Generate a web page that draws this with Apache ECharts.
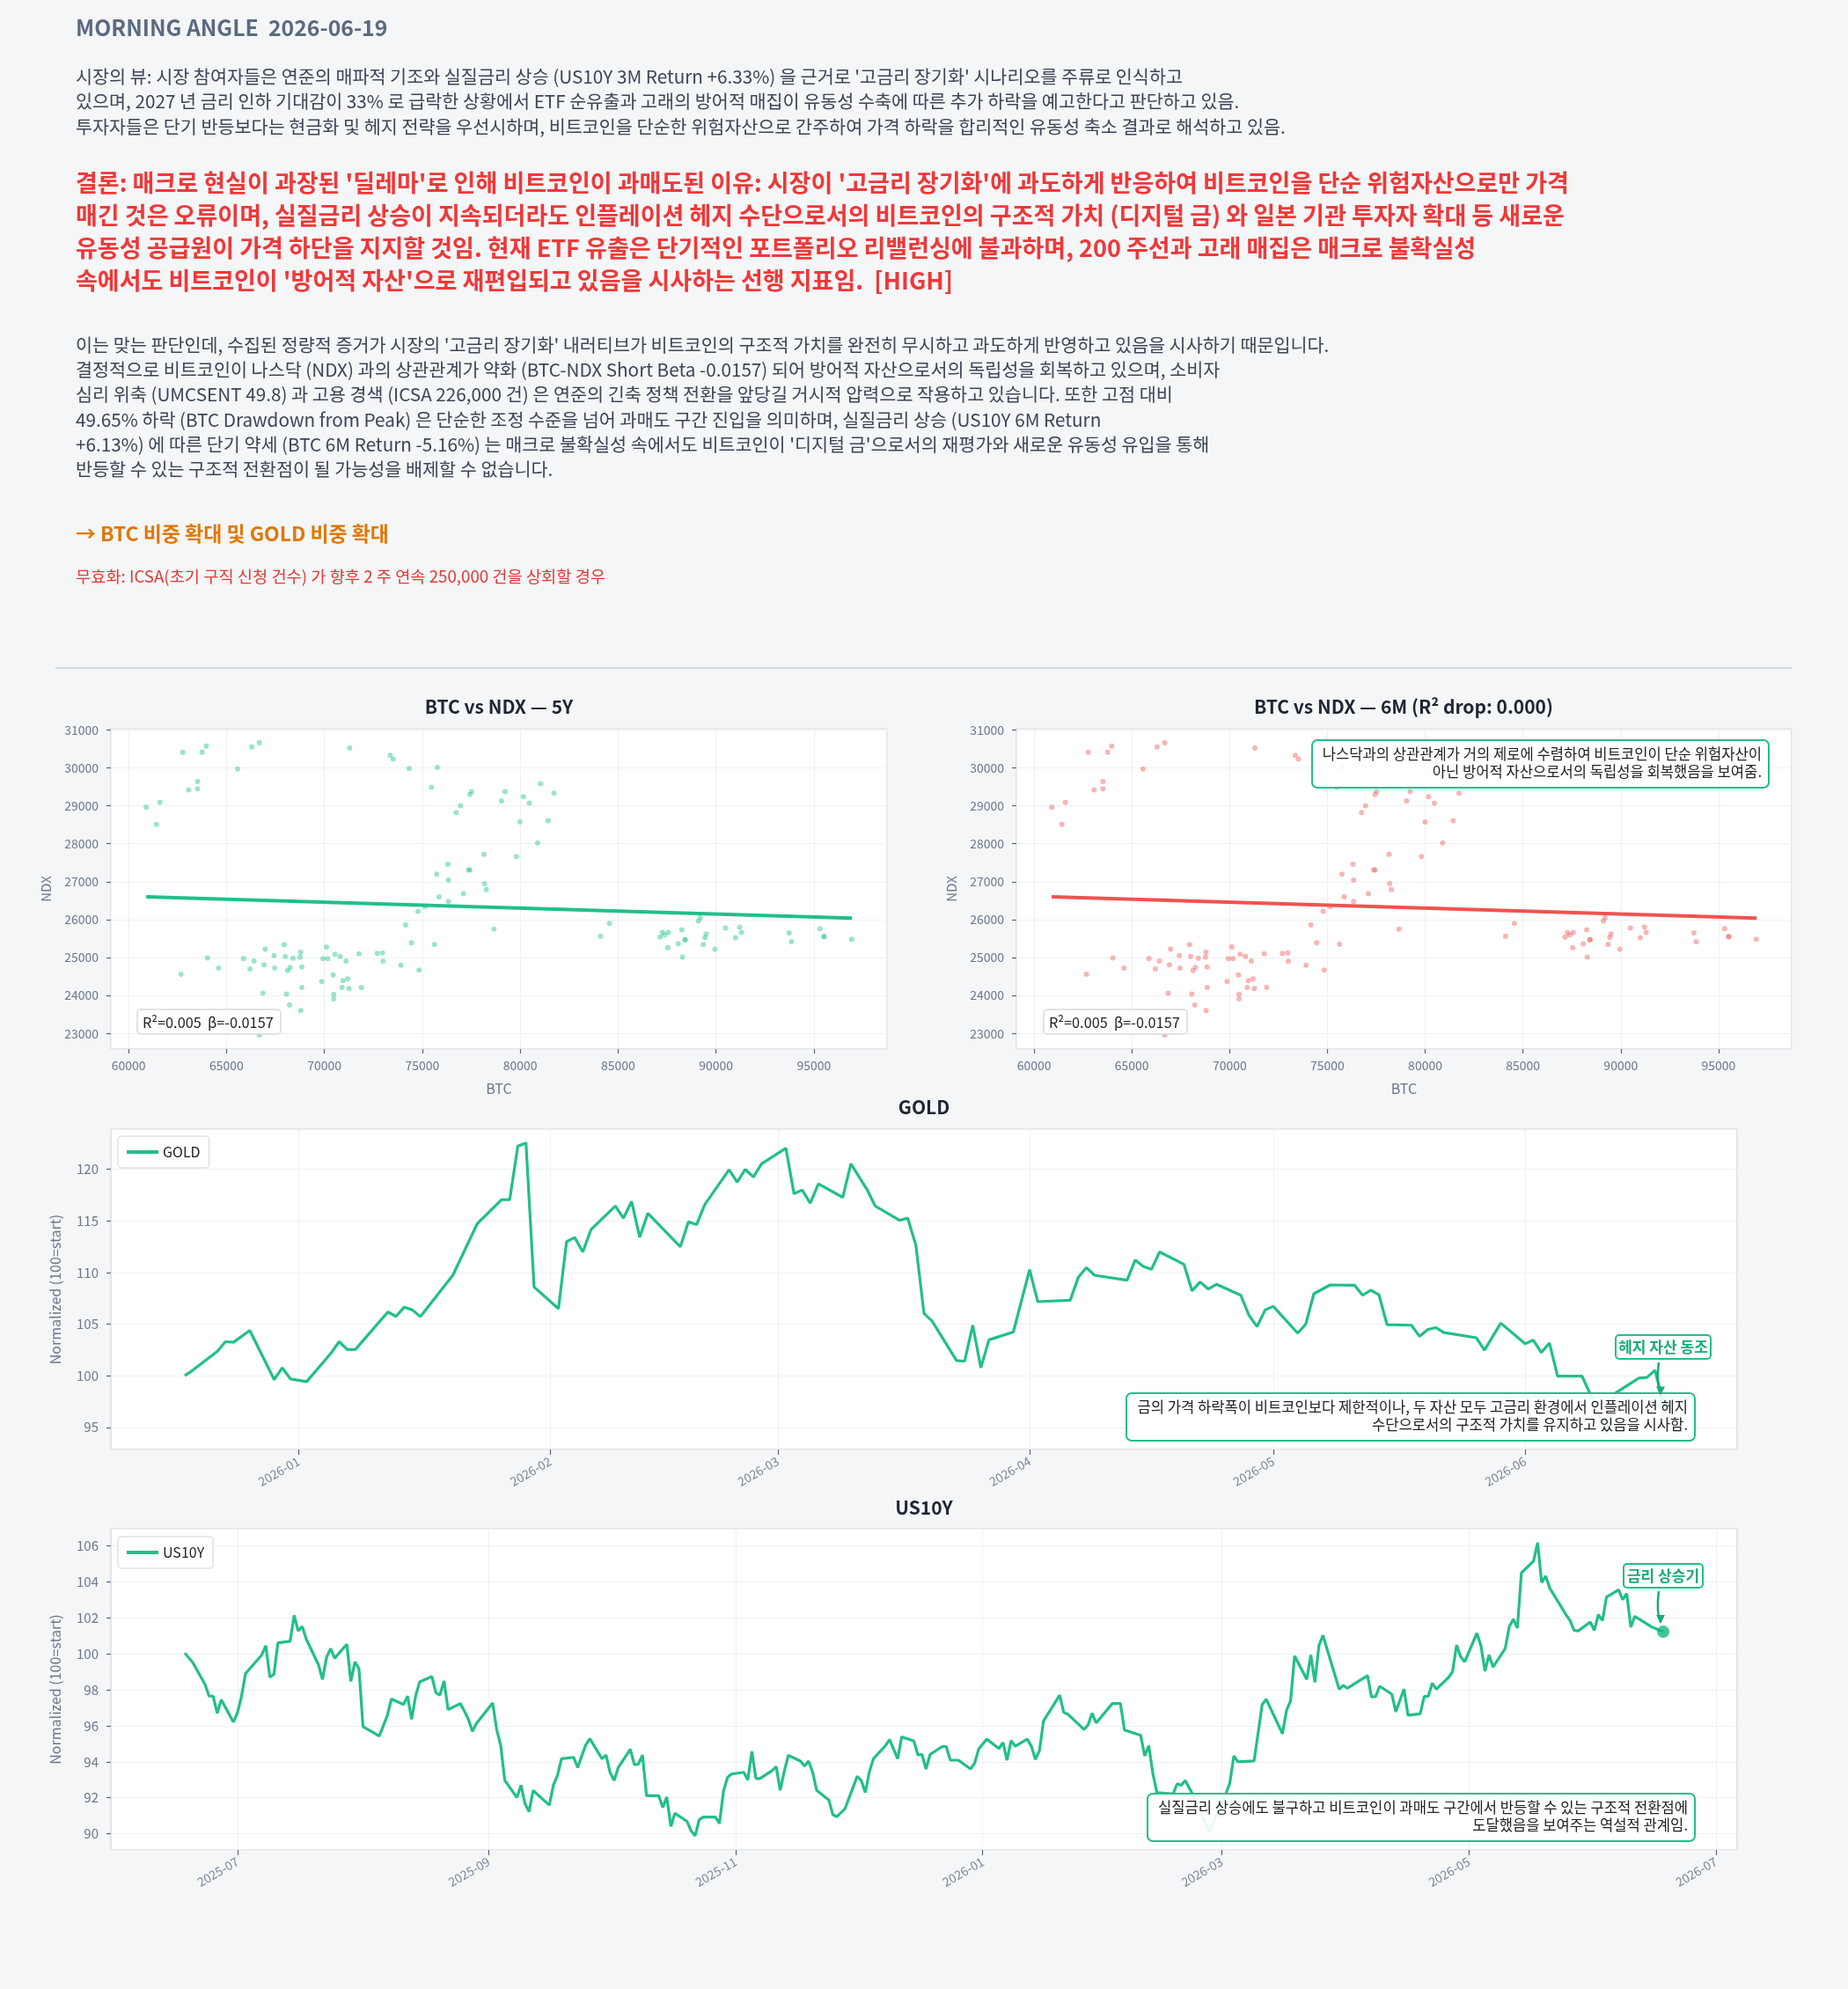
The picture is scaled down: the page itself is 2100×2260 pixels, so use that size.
<!DOCTYPE html>
<html>
<head>
<meta charset="utf-8">
<script src="https://cdn.jsdelivr.net/npm/echarts@6/dist/echarts.min.js"></script>
<style>
html, body { margin: 0; padding: 0; background: #f4f6f8; }
#main { width: 2100px; height: 2260px; }
</style>
</head>
<body>
<div id="main"></div>
<script>
// BTC / NDX scatter (same sample drawn in both panels)
var btcVals = [60900,61420,61600,62770,62680,63070,63520,63520,63760,63970,
  64030,64600,65570,65870,66290,66200,66410,66680,66680,66860,
  66920,66980,67430,67460,67950,68010,68070,68130,68220,68250,
  68400,68760,68790,68790,68850,68850,69870,69930,70110,70170,
  70450,70480,70480,70540,70810,70900,70960,71110,71200,71260,
  71290,71770,71890,72700,72970,73000,73360,73520,73910,74150,
  74330,74450,74780,74840,75140,75470,75620,75740,75770,75860,
  76310,76340,76340,76740,76950,77100,77370,77430,77430,77520,
  78150,78180,78270,78660,79050,79230,79810,79990,80170,80470,
  80890,81040,81430,81730,84110,84560,87150,87270,87390,87540,
  87570,88080,88260,88290,88410,88440,89110,89200,89350,89440,
  89500,89950,90490,91000,91210,91300,93740,93860,95310,95520,
  95520,96930];
var ndxVals = [28960,28510,29090,30410,24560,29420,29640,29450,30410,30570,
  24990,24720,29970,24970,30550,24700,24910,30660,22960,24060,
  24810,25220,25050,24720,25340,25030,24040,24660,23750,24740,
  24980,25010,25140,23600,24750,24210,24370,24970,25280,24970,
  24540,24030,23910,25090,25030,24210,24390,24910,24440,24180,
  30520,25100,24210,25110,25120,24900,30330,30230,24800,25860,
  29980,25390,26220,24670,26340,29490,25350,27200,30010,26600,
  27460,27040,26480,28820,29000,26680,27310,27310,29300,29370,
  27720,26950,26790,25750,29130,29370,27660,28570,29240,29070,
  28020,29580,28610,29330,25560,25900,25540,25660,25600,25260,
  25660,25360,25730,25010,25470,25470,25960,26050,25340,25530,
  25620,25220,25780,25520,25800,25660,25650,25420,25760,25550,
  25550,25480];
// fitted line ends
var fitBtc = [60900, 96950];
var fitNdx = [26600, 26040];

var goldDates = ['2025-12-18','2025-12-19','2025-12-22','2025-12-23','2025-12-24','2025-12-26','2025-12-29','2025-12-30','2025-12-31',
  '2026-01-02','2026-01-05','2026-01-06','2026-01-07','2026-01-08','2026-01-12','2026-01-13','2026-01-14','2026-01-15','2026-01-16',
  '2026-01-20','2026-01-23','2026-01-26','2026-01-27','2026-01-28','2026-01-29','2026-01-30',
  '2026-02-02','2026-02-03','2026-02-04','2026-02-05','2026-02-06','2026-02-09','2026-02-10','2026-02-11','2026-02-12','2026-02-13',
  '2026-02-17','2026-02-18','2026-02-19','2026-02-20','2026-02-23','2026-02-24','2026-02-25','2026-02-26','2026-02-27',
  '2026-03-02','2026-03-03','2026-03-04','2026-03-05','2026-03-06','2026-03-09','2026-03-10','2026-03-12','2026-03-13',
  '2026-03-16','2026-03-17','2026-03-18','2026-03-19','2026-03-20','2026-03-23','2026-03-24','2026-03-25','2026-03-26','2026-03-27','2026-03-30',
  '2026-04-01','2026-04-02','2026-04-06','2026-04-07','2026-04-08','2026-04-09','2026-04-13','2026-04-14','2026-04-15','2026-04-16','2026-04-17',
  '2026-04-20','2026-04-21','2026-04-22','2026-04-23','2026-04-24','2026-04-27','2026-04-28','2026-04-29','2026-04-30',
  '2026-05-01','2026-05-04','2026-05-05','2026-05-06','2026-05-08','2026-05-11','2026-05-12','2026-05-13','2026-05-14','2026-05-15',
  '2026-05-18','2026-05-19','2026-05-20','2026-05-21','2026-05-22','2026-05-26','2026-05-27','2026-05-29',
  '2026-06-01','2026-06-02','2026-06-03','2026-06-04','2026-06-05','2026-06-08','2026-06-09','2026-06-11','2026-06-12',
  '2026-06-15','2026-06-16','2026-06-17','2026-06-18'];
var goldVals = [100.0,100.54,102.36,103.3,103.25,104.39,99.63,100.77,99.69,
  99.43,102.19,103.3,102.54,102.54,106.18,105.75,106.64,106.38,105.73,
  109.74,114.73,117.07,117.07,122.25,122.56,108.6,
  106.5,113.0,113.4,112.0,114.16,116.44,115.27,116.89,113.42,115.75,
  112.5,114.93,114.64,116.58,119.97,118.77,120.0,119.26,120.54,
  122.05,117.64,118.0,116.72,118.6,117.29,120.54,118.03,116.44,
  115.07,115.27,112.65,106.04,105.3,101.48,101.4,104.9,100.77,103.48,104.24,
  110.28,107.18,107.32,109.54,110.48,109.74,109.26,111.22,110.6,110.31,112.0,
  110.8,108.23,109.09,108.4,108.86,107.8,105.87,104.76,106.38,
  106.72,104.13,105.01,107.95,108.8,108.77,107.8,108.29,107.86,104.96,
  104.9,103.82,104.47,104.67,104.19,103.68,102.48,105.1,
  103.1,103.45,102.25,103.16,99.97,99.97,98.26,94.27,98.26,
  99.77,99.83,100.54,97.32];

var usDates = ['2025-06-18','2025-06-20','2025-06-23','2025-06-24','2025-06-25','2025-06-26','2025-06-27','2025-06-30',
  '2025-07-01','2025-07-02','2025-07-03','2025-07-07','2025-07-08','2025-07-09','2025-07-10','2025-07-11','2025-07-14','2025-07-15',
  '2025-07-16','2025-07-17','2025-07-18','2025-07-21','2025-07-22','2025-07-23','2025-07-24','2025-07-25','2025-07-28','2025-07-29',
  '2025-07-30','2025-07-31','2025-08-01','2025-08-04','2025-08-05','2025-08-07','2025-08-08','2025-08-11','2025-08-12','2025-08-13',
  '2025-08-14','2025-08-15','2025-08-18','2025-08-19','2025-08-20','2025-08-21','2025-08-22','2025-08-25','2025-08-26','2025-08-27',
  '2025-08-28','2025-08-29','2025-09-02','2025-09-03','2025-09-04','2025-09-05','2025-09-08','2025-09-09','2025-09-10','2025-09-11',
  '2025-09-12','2025-09-16','2025-09-17','2025-09-18','2025-09-19','2025-09-22','2025-09-23','2025-09-24','2025-09-25','2025-09-26',
  '2025-09-29','2025-09-30','2025-10-01','2025-10-02','2025-10-03','2025-10-06','2025-10-07','2025-10-08','2025-10-09','2025-10-10',
  '2025-10-13','2025-10-14','2025-10-15','2025-10-16','2025-10-17','2025-10-20','2025-10-21','2025-10-22','2025-10-23','2025-10-24',
  '2025-10-27','2025-10-28','2025-10-29','2025-10-30','2025-10-31','2025-11-03','2025-11-04','2025-11-05','2025-11-06','2025-11-07',
  '2025-11-10','2025-11-11','2025-11-12','2025-11-13','2025-11-14','2025-11-17','2025-11-18','2025-11-19','2025-11-20','2025-11-21',
  '2025-11-24','2025-11-25','2025-11-26','2025-11-28','2025-12-01','2025-12-02','2025-12-03','2025-12-04','2025-12-05','2025-12-08',
  '2025-12-09','2025-12-11','2025-12-12','2025-12-15','2025-12-16','2025-12-17','2025-12-18','2025-12-19','2025-12-22','2025-12-23',
  '2025-12-24','2025-12-26','2025-12-29','2025-12-30','2025-12-31','2026-01-02','2026-01-05','2026-01-06','2026-01-07','2026-01-08',
  '2026-01-09','2026-01-12','2026-01-13','2026-01-14','2026-01-15','2026-01-16','2026-01-20','2026-01-21','2026-01-22','2026-01-26',
  '2026-01-27','2026-01-28','2026-01-29','2026-02-02','2026-02-04','2026-02-05','2026-02-09','2026-02-10','2026-02-11','2026-02-12',
  '2026-02-13','2026-02-17','2026-02-18','2026-02-19','2026-02-20','2026-02-22','2026-02-26','2026-03-02','2026-03-03','2026-03-04',
  '2026-03-05','2026-03-09','2026-03-11','2026-03-12','2026-03-16','2026-03-17','2026-03-18','2026-03-19','2026-03-22','2026-03-23',
  '2026-03-24','2026-03-25','2026-03-26','2026-03-30','2026-03-31','2026-04-01','2026-04-06','2026-04-07','2026-04-08','2026-04-09',
  '2026-04-12','2026-04-13','2026-04-15','2026-04-16','2026-04-19','2026-04-20','2026-04-21','2026-04-22','2026-04-23','2026-04-26',
  '2026-04-27','2026-04-28','2026-04-29','2026-04-30','2026-05-03','2026-05-04','2026-05-05','2026-05-06','2026-05-07','2026-05-10',
  '2026-05-11','2026-05-12','2026-05-13','2026-05-14','2026-05-17','2026-05-18','2026-05-19','2026-05-20','2026-05-21','2026-05-25',
  '2026-05-26','2026-05-27','2026-05-28','2026-05-31','2026-06-01','2026-06-02','2026-06-03','2026-06-04','2026-06-07','2026-06-08',
  '2026-06-09','2026-06-10','2026-06-11','2026-06-15','2026-06-18'];
var usVals = [100.05,99.51,98.30,97.65,97.65,96.70,97.45,96.21,
  96.73,97.65,98.91,99.94,100.46,98.71,98.86,100.62,100.70,102.14,
  101.28,101.52,100.82,99.40,98.58,99.81,100.30,99.76,100.54,98.47,
  99.56,99.18,95.96,95.56,95.43,96.57,97.49,97.19,97.65,96.37,
  97.68,98.45,98.74,97.84,97.71,98.50,96.90,97.24,96.83,96.37,
  95.69,96.13,97.27,95.80,94.90,92.97,92.01,92.70,91.67,91.23,
  92.40,91.59,92.70,93.24,94.17,94.25,93.68,94.33,94.94,95.28,
  94.17,94.38,93.40,92.97,93.68,94.69,93.84,93.87,94.38,92.12,
  92.12,91.47,92.04,90.41,91.14,90.69,90.16,89.89,90.78,90.93,
  90.93,90.57,92.37,93.14,93.32,93.42,92.99,94.58,93.07,93.07,
  93.51,93.73,92.42,93.46,94.36,94.04,93.76,94.04,93.43,92.42,
  91.88,91.06,90.95,91.39,93.19,92.97,92.29,93.43,94.17,94.90,
  95.23,94.17,95.39,95.15,94.38,94.41,93.60,94.41,94.85,94.85,
  94.09,94.09,93.60,93.92,94.71,95.26,94.74,95.07,94.09,95.18,
  94.87,95.26,94.87,94.13,94.62,96.26,97.71,96.75,96.65,95.80,
  96.05,96.70,96.16,97.24,97.24,95.77,95.47,94.33,94.90,93.35,
  92.29,92.21,92.78,92.70,92.97,92.12,90.10,92.21,92.81,94.33,
  94.00,94.05,97.19,97.48,95.56,96.86,97.39,99.89,98.58,99.94,
  98.42,100.46,101.03,98.04,98.25,98.09,98.79,97.60,97.63,98.20,
  97.76,96.78,98.04,96.59,96.67,97.63,97.65,98.37,98.04,98.69,
  99.02,100.49,99.84,99.56,101.15,100.46,99.04,99.94,99.27,100.30,
  101.52,101.93,101.44,104.51,105.17,106.18,103.97,104.33,103.65,102.18,
  101.85,101.31,101.28,101.77,101.31,102.18,101.85,103.16,103.56,103.02,
  103.35,101.49,102.09,101.52,101.23];

var goldTicks = ['2026-01-01','2026-02-01','2026-03-01','2026-04-01','2026-05-01','2026-06-01'];
var usTicks = ['2025-07-01','2025-09-01','2025-11-01','2026-01-01','2026-03-01','2026-05-01','2026-07-01'];

var GREEN = '#22bf88';
var RED = '#ef5350';
var FONT = '"Noto Sans CJK KR", "Noto Sans", sans-serif';
var AXIS_TXT = '#6b788c';

function ts(s) { return new Date(s + 'T00:00:00').getTime(); }
function ym(v) {
    var d = new Date(v);
    var m = d.getMonth() + 1;
    return d.getFullYear() + '-' + (m < 10 ? '0' + m : m);
}
function plain(v) { return String(v); }
function zip(a, b) {
    var out = [];
    for (var i = 0; i < a.length; i++) out.push([a[i], b[i]]);
    return out;
}
function padRange(dates) {
    var a = ts(dates[0]), b = ts(dates[dates.length - 1]);
    var m = (b - a) * 0.05;
    return [a - m, b + m];
}

var goldData = zip(goldDates.map(ts), goldVals);
var usData = zip(usDates.map(ts), usVals);
var goldRange = padRange(goldDates);
var usRange = padRange(usDates);

var gridStyle = { show: true, backgroundColor: '#ffffff', borderColor: '#e1e4e9', borderWidth: 2 };
var tickStyle = { show: true, length: 5, lineStyle: { color: '#5d6775', width: 1.2 } };
var splitStyle = { show: true, lineStyle: { color: '#eef0f3', width: 1 } };

function scatterX(idx) {
    return {
        gridIndex: idx, type: 'value', min: 59097, max: 98739, splitNumber: 8,
        axisLine: { show: false }, axisTick: tickStyle, splitLine: splitStyle,
        axisLabel: { fontSize: 14, color: AXIS_TXT, fontFamily: FONT, margin: 12, formatter: plain,
                     showMinLabel: false, showMaxLabel: false },
        name: 'BTC', nameLocation: 'middle', nameGap: 37,
        nameTextStyle: { fontSize: 16, color: AXIS_TXT, fontFamily: FONT }
    };
}
function scatterY(idx) {
    return {
        gridIndex: idx, type: 'value', min: 22588, max: 31031, splitNumber: 8,
        axisLine: { show: false }, axisTick: tickStyle, splitLine: splitStyle,
        axisLabel: { fontSize: 14, color: AXIS_TXT, fontFamily: FONT, margin: 14, formatter: plain,
                     showMinLabel: false, showMaxLabel: false },
        name: 'NDX', nameLocation: 'middle', nameGap: 66,
        nameTextStyle: { fontSize: 15, color: AXIS_TXT, fontFamily: FONT }
    };
}
// dates are drawn on a value axis (timestamps) so month ticks can be placed exactly
function timeX(idx, range, ticks) {
    var vals = ticks.map(ts);
    return {
        gridIndex: idx, type: 'value', min: range[0], max: range[1],
        axisLine: { show: false }, splitLine: { show: false },
        axisTick: { show: true, length: 6, customValues: vals, lineStyle: { color: '#5d6775', width: 1.2 } },
        axisLabel: { customValues: vals, rotate: 30, fontSize: 14, color: '#7b879a', fontFamily: FONT, margin: 12, formatter: ym }
    };
}
function normY(idx, min, max, split) {
    return {
        gridIndex: idx, type: 'value', min: min, max: max, splitNumber: split,
        axisLine: { show: false }, axisTick: tickStyle, splitLine: splitStyle,
        axisLabel: { fontSize: 15, color: AXIS_TXT, fontFamily: FONT, margin: 14, showMinLabel: false, showMaxLabel: false },
        name: 'Normalized (100=start)', nameLocation: 'middle', nameGap: 55,
        nameTextStyle: { fontSize: 16, color: AXIS_TXT, fontFamily: FONT }
    };
}
function vGrid(ticks) {
    return {
        silent: true, symbol: 'none', z: 1, animation: false,
        label: { show: false },
        lineStyle: { color: '#eef0f3', width: 1, type: 'solid' },
        data: ticks.map(function (t) { return { xAxis: ts(t) }; })
    };
}
function legendAt(name, top) {
    return {
        data: [name], left: 134, top: top, orient: 'vertical',
        icon: 'rect', itemWidth: 36, itemHeight: 4, itemGap: 0,
        padding: [10, 10, 10, 10],
        backgroundColor: '#ffffff', borderColor: '#dfe2e7', borderWidth: 1.5, borderRadius: 4,
        textStyle: { fontSize: 16, color: '#222', fontFamily: FONT }
    };
}

var chart = echarts.init(document.getElementById('main'), null, { renderer: 'canvas' });

var option = {
    backgroundColor: '#f4f6f8',
    animation: false,
    textStyle: { fontFamily: FONT },
    grid: [
        Object.assign({ left: 126, top: 828, width: 882, height: 364 }, gridStyle),
        Object.assign({ left: 1155, top: 828, width: 881, height: 364 }, gridStyle),
        Object.assign({ left: 126, top: 1283, width: 1848, height: 364 }, gridStyle),
        Object.assign({ left: 126, top: 1737, width: 1848, height: 365 }, gridStyle)
    ],
    xAxis: [scatterX(0), scatterX(1), timeX(2, goldRange, goldTicks), timeX(3, usRange, usTicks)],
    yAxis: [scatterY(0), scatterY(1), normY(2, 92.85, 123.9, 6), normY(3, 89.1, 106.96, 9)],
    legend: [legendAt('GOLD', 1291), legendAt('US10Y', 1746)],
    series: [
        { type: 'scatter', xAxisIndex: 0, yAxisIndex: 0, data: zip(btcVals, ndxVals), symbolSize: 6,
          itemStyle: { color: 'rgba(52,200,145,0.62)' } },
        { type: 'line', xAxisIndex: 0, yAxisIndex: 0, data: zip(fitBtc, fitNdx), symbol: 'none',
          lineStyle: { color: GREEN, width: 4 } },
        { type: 'scatter', xAxisIndex: 1, yAxisIndex: 1, data: zip(btcVals, ndxVals), symbolSize: 6,
          itemStyle: { color: 'rgba(240,100,100,0.6)' } },
        { type: 'line', xAxisIndex: 1, yAxisIndex: 1, data: zip(fitBtc, fitNdx), symbol: 'none',
          lineStyle: { color: RED, width: 4 } },
        { name: 'GOLD', type: 'line', xAxisIndex: 2, yAxisIndex: 2, data: goldData, symbol: 'none',
          lineStyle: { color: GREEN, width: 3.2 }, itemStyle: { color: GREEN }, markLine: vGrid(goldTicks) },
        { type: 'scatter', xAxisIndex: 2, yAxisIndex: 2, data: [goldData[goldData.length - 1]], symbolSize: 14, z: 30,
          itemStyle: { color: '#14b87a' } },
        { name: 'US10Y', type: 'line', xAxisIndex: 3, yAxisIndex: 3, data: usData, symbol: 'none',
          lineStyle: { color: GREEN, width: 3.2 }, itemStyle: { color: GREEN }, markLine: vGrid(usTicks) },
        { type: 'scatter', xAxisIndex: 3, yAxisIndex: 3, data: [usData[usData.length - 1]], symbolSize: 14, z: 30,
          itemStyle: { color: '#14b87a' } }
    ]
};
chart.setOption(option);

// ---------- text blocks ----------
var viewLines = [
    "시장의 뷰: 시장 참여자들은 연준의 매파적 기조와 실질금리 상승 (US10Y 3M Return +6.33%) 을 근거로 '고금리 장기화' 시나리오를 주류로 인식하고",
    "있으며, 2027 년 금리 인하 기대감이 33% 로 급락한 상황에서 ETF 순유출과 고래의 방어적 매집이 유동성 수축에 따른 추가 하락을 예고한다고 판단하고 있음.",
    "투자자들은 단기 반등보다는 현금화 및 헤지 전략을 우선시하며, 비트코인을 단순한 위험자산으로 간주하여 가격 하락을 합리적인 유동성 축소 결과로 해석하고 있음."
];
var conclLines = [
    "결론: 매크로 현실이 과장된 '딜레마'로 인해 비트코인이 과매도된 이유: 시장이 '고금리 장기화'에 과도하게 반응하여 비트코인을 단순 위험자산으로만 가격",
    "매긴 것은 오류이며, 실질금리 상승이 지속되더라도 인플레이션 헤지 수단으로서의 비트코인의 구조적 가치 (디지털 금) 와 일본 기관 투자자 확대 등 새로운",
    "유동성 공급원이 가격 하단을 지지할 것임. 현재 ETF 유출은 단기적인 포트폴리오 리밸런싱에 불과하며, 200 주선과 고래 매집은 매크로 불확실성",
    "속에서도 비트코인이 '방어적 자산'으로 재편입되고 있음을 시사하는 선행 지표임.  [HIGH]"
];
var reasonLines = [
    "이는 맞는 판단인데, 수집된 정량적 증거가 시장의 '고금리 장기화' 내러티브가 비트코인의 구조적 가치를 완전히 무시하고 과도하게 반영하고 있음을 시사하기 때문입니다.",
    "결정적으로 비트코인이 나스닥 (NDX) 과의 상관관계가 약화 (BTC-NDX Short Beta -0.0157) 되어 방어적 자산으로서의 독립성을 회복하고 있으며, 소비자",
    "심리 위축 (UMCSENT 49.8) 과 고용 경색 (ICSA 226,000 건) 은 연준의 긴축 정책 전환을 앞당길 거시적 압력으로 작용하고 있습니다. 또한 고점 대비",
    "49.65% 하락 (BTC Drawdown from Peak) 은 단순한 조정 수준을 넘어 과매도 구간 진입을 의미하며, 실질금리 상승 (US10Y 6M Return",
    "+6.13%) 에 따른 단기 약세 (BTC 6M Return -5.16%) 는 매크로 불확실성 속에서도 비트코인이 '디지털 금'으로서의 재평가와 새로운 유동성 유입을 통해",
    "반등할 수 있는 구조적 전환점이 될 가능성을 배제할 수 없습니다."
];

var g = [];
function txt(x, y, s, size, color, weight, align) {
    g.push({
        type: 'text', x: x, y: y, z: 50,
        style: {
            text: s, fill: color, align: align || 'left', verticalAlign: 'middle',
            font: (weight || 'normal') + ' ' + size + 'px ' + FONT
        }
    });
}
function lines(arr, x, y0, lh, size, color, weight) {
    arr.forEach(function (s, i) { txt(x, y0 + i * lh, s, size, color, weight); });
}

txt(86, 32, 'MORNING ANGLE  2026-06-19', 24.8, '#5b6a80', 'bold');
lines(viewLines, 86, 87, 28.4, 20.7, '#3c4656');
lines(conclLines, 86, 207.6, 37.2, 27, '#ef3838', 'bold');
lines(reasonLines, 86, 392, 28.3, 20.7, '#3c4656');
txt(86, 606, '→ BTC 비중 확대 및 GOLD 비중 확대', 22.9, '#e07800', 'bold');
txt(86, 655, '무효화: ICSA(초기 구직 신청 건수) 가 향후 2 주 연속 250,000 건을 상회할 경우', 18.7, '#e53935');

// separator
g.push({ type: 'line', z: 50, shape: { x1: 63, y1: 759, x2: 2036, y2: 759 }, style: { stroke: '#cdd6e1', lineWidth: 2 } });

// chart titles
txt(567, 803, 'BTC vs NDX — 5Y', 21, '#1f2633', 'bold', 'center');
txt(1595, 803, 'BTC vs NDX — 6M (R² drop: 0.000)', 21, '#1f2633', 'bold', 'center');
txt(1050, 1258, 'GOLD', 21, '#1f2633', 'bold', 'center');
txt(1050, 1713, 'US10Y', 21, '#1f2633', 'bold', 'center');

// R² boxes
[156, 1186].forEach(function (bx) {
    g.push({ type: 'rect', z: 40, shape: { x: bx, y: 1147, width: 163, height: 28, r: 4 },
        style: { fill: 'rgba(255,255,255,0.92)', stroke: '#d6dae0', lineWidth: 1.5 } });
    txt(bx + 6, 1161.5, 'R²=0.005  β=-0.0157', 16.3, '#222');
});

function noteBox(x, y, w, h, textLines, size, lh) {
    g.push({ type: 'rect', z: 40, shape: { x: x, y: y, width: w, height: h, r: 6 },
        style: { fill: 'rgba(255,255,255,0.9)', stroke: GREEN, lineWidth: 2 } });
    textLines.forEach(function (s, i) {
        txt(x + w - 8, y + 16 + i * lh, s, size, '#222', 'normal', 'right');
    });
}
noteBox(1491, 841, 519, 54, ['나스닥과의 상관관계가 거의 제로에 수렴하여 비트코인이 단순 위험자산이',
    '아닌 방어적 자산으로서의 독립성을 회복했음을 보여줌.'], 16.6, 19.8);
noteBox(1280, 1583, 646, 54, ['금의 가격 하락폭이 비트코인보다 제한적이나, 두 자산 모두 고금리 환경에서 인플레이션 헤지',
    '수단으로서의 구조적 가치를 유지하고 있음을 시사함.'], 16.6, 20);
noteBox(1304, 2038, 622, 54, ['실질금리 상승에도 불구하고 비트코인이 과매도 구간에서 반등할 수 있는 구조적 전환점에',
    '도달했음을 보여주는 역설적 관계임.'], 16.6, 20);

// tag labels with arrows to the last point
function tag(label, bx, by, bw, bh, gridIdx, pt) {
    g.push({ type: 'rect', z: 40, shape: { x: bx, y: by, width: bw, height: bh, r: 4 },
        style: { fill: '#ffffff', stroke: GREEN, lineWidth: 2 } });
    txt(bx + bw / 2, by + bh / 2, label, 17, '#1aab78', 'bold', 'center');
    var p = chart.convertToPixel({ gridIndex: gridIdx }, pt);
    var sx = bx + bw / 2 - 5, sy = by + bh + 4;
    var ex = p[0] - 3, ey = p[1] - 11;
    g.push({ type: 'bezierCurve', z: 41,
        shape: { x1: sx, y1: sy, x2: ex, y2: ey, cpx1: sx - 3, cpy1: (sy + ey) / 2 + 6 },
        style: { stroke: '#1aab78', lineWidth: 2.5, fill: null } });
    g.push({ type: 'polygon', z: 41,
        shape: { points: [[ex, ey + 2], [ex - 5, ey - 8], [ex + 5, ey - 8]] },
        style: { fill: '#1aab78' } });
}
tag('헤지 자산 동조', 1836, 1517, 108, 27, 2, goldData[goldData.length - 1]);
tag('금리 상승기', 1845, 1777, 90, 27, 3, usData[usData.length - 1]);

chart.setOption({ graphic: { elements: g } });
</script>
</body>
</html>
